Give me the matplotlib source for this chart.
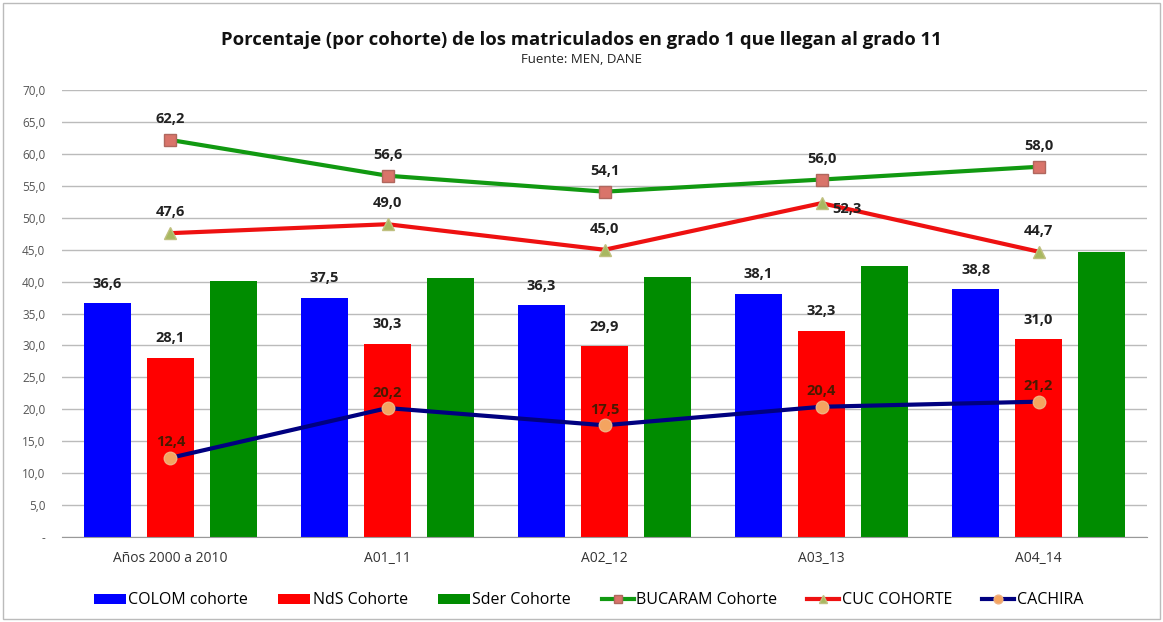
import matplotlib
matplotlib.use("Agg")
import matplotlib.pyplot as plt
import numpy as np

categories = ["Años 2000 a 2010", "A01_11", "A02_12", "A03_13", "A04_14"]
colom = [36.6, 37.5, 36.3, 38.1, 38.8]
nds = [28.1, 30.3, 29.9, 32.3, 31.0]
sder = [40.1, 40.5, 40.8, 42.5, 44.6]
bucaram = [62.2, 56.6, 54.1, 56.0, 58.0]
cuc = [47.6, 49.0, 45.0, 52.3, 44.7]
cachira = [12.4, 20.2, 17.5, 20.4, 21.2]
yticks = np.arange(0, 75, 5)
ytick_labels = ["-"] + [f"{v:.1f}".replace(".", ",") for v in yticks[1:]]

plt.rcParams['font.family'] = ['Open Sans', 'DejaVu Sans']

fig = plt.figure(figsize=(11.63, 6.22), dpi=100)
ax = fig.add_axes([0.0533, 0.1367, 0.933, 0.7183])

x = np.arange(len(categories))
w = 0.22
off = 0.29

def fmt(v):
    return f"{v:.1f}".replace(".", ",")

b1 = ax.bar(x - off, colom, w, color="#0000FF", label="COLOM cohorte", zorder=2)
b2 = ax.bar(x, nds, w, color="#FF0000", label="NdS Cohorte", zorder=2)
b3 = ax.bar(x + off, sder, w, color="#008C00", label="Sder Cohorte", zorder=2)

for bars, vals in [(b1, colom), (b2, nds)]:
    for xi, v in zip(bars, vals):
        ax.annotate(fmt(v), (xi.get_x() + xi.get_width() / 2, v), xytext=(0, 9),
                    textcoords="offset points", ha="center", va="bottom",
                    fontsize=10.5, fontweight="bold", color="#222222", zorder=5)

ax.plot(x, bucaram, color="#119911", lw=3, marker="s", ms=9,
        mfc="#D9746A", mec="#B0675E", label="BUCARAM Cohorte", zorder=4)
ax.plot(x, cuc, color="#EE1111", lw=3, marker="^", ms=9,
        mfc="#A8B860", mec="#C0C080", label="CUC COHORTE", zorder=4)
ax.plot(x, cachira, color="#000080", lw=3, marker="o", ms=9,
        mfc="#F4A460", mec="#F0B080", label="CACHIRA", zorder=4)

for xi, v in zip(x, bucaram):
    ax.annotate(fmt(v), (xi, v), xytext=(0, 10), textcoords="offset points",
                ha="center", va="bottom", fontsize=10.5, fontweight="bold", color="#222222", zorder=5)
for i, (xi, v) in enumerate(zip(x, cuc)):
    if i == 3:
        ax.annotate(fmt(v), (xi, v), xytext=(8, -4), textcoords="offset points",
                    ha="left", va="center", fontsize=10.5, fontweight="bold", color="#222222", zorder=5)
    else:
        ax.annotate(fmt(v), (xi, v), xytext=(0, 10), textcoords="offset points",
                    ha="center", va="bottom", fontsize=10.5, fontweight="bold", color="#222222", zorder=5)
for xi, v in zip(x, cachira):
    ax.annotate(fmt(v), (xi, v), xytext=(0, 6), textcoords="offset points",
                ha="center", va="bottom", fontsize=10.5, fontweight="bold", color="#4A1A00", zorder=5)

ax.set_ylim(0, 70)
ax.set_xlim(-0.5, len(categories) - 0.5)
ax.set_yticks(yticks)
ax.set_yticklabels(ytick_labels, fontsize=8.5, color="#555555")
ax.set_xticks(x)
ax.set_xticklabels(categories, fontsize=10, color="#333333")
ax.tick_params(axis="both", length=0)
ax.tick_params(axis="x", pad=10)
ax.tick_params(axis="y", pad=12)
ax.grid(axis="y", color="#BBBBBB", lw=1, zorder=0)
ax.set_axisbelow(True)
for s in ["top", "right", "left"]:
    ax.spines[s].set_visible(False)
ax.spines["bottom"].set_color("#999999")

fig.text(0.5, 0.935, "Porcentaje (por cohorte) de los matriculados en grado 1 que llegan al grado 11",
         ha="center", va="center", fontsize=13.3, fontweight="bold", color="#111111")
fig.text(0.5, 0.905, "Fuente: MEN, DANE", ha="center", va="center", fontsize=9.5, color="#222222")

handles, labels = ax.get_legend_handles_labels()
order = [3, 4, 5, 0, 1, 2]
handles = [handles[i] for i in order]
labels = [labels[i] for i in order]
leg = fig.legend(handles, labels, loc="center", bbox_to_anchor=(0.506, 0.035), ncol=6,
                 frameon=False, fontsize=11.5, handlelength=2.0, handletextpad=0.15,
                 columnspacing=1.9, markerscale=0.7, handleheight=0.6)

fig.patches.append(matplotlib.patches.Rectangle((0.003, 0.005), 0.994, 0.99,
                   transform=fig.transFigure, fill=False, ec="#BBBBBB", lw=1))

fig.savefig("out.png", dpi=100)
